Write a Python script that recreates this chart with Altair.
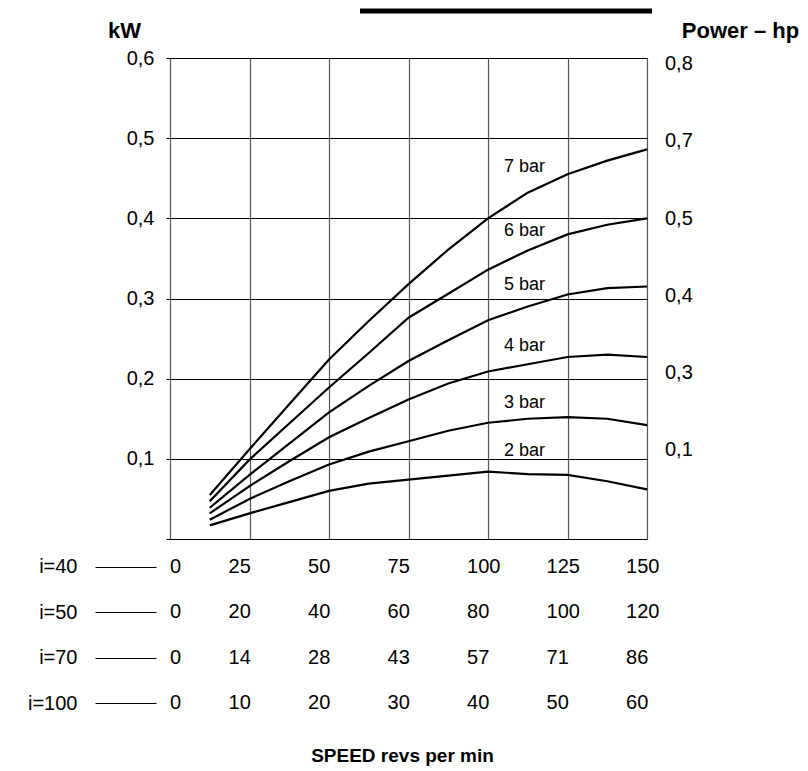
import altair as alt
import pandas as pd

# ---- data ----
speed = [12.5, 25, 37.5, 50, 62.5, 75, 87.5, 100, 112.5, 125, 137.5, 150]
bar7 = [0.055, 0.112, 0.168, 0.224, 0.272, 0.318, 0.361, 0.400, 0.432, 0.455, 0.472, 0.486]
bar6 = [0.047, 0.099, 0.144, 0.189, 0.232, 0.276, 0.306, 0.336, 0.360, 0.380, 0.392, 0.400]
bar5 = [0.039, 0.080, 0.119, 0.158, 0.191, 0.222, 0.248, 0.273, 0.290, 0.305, 0.313, 0.315]
bar4 = [0.032, 0.066, 0.097, 0.127, 0.151, 0.174, 0.194, 0.209, 0.218, 0.227, 0.230, 0.227]
bar3 = [0.024, 0.050, 0.072, 0.093, 0.109, 0.122, 0.135, 0.145, 0.150, 0.152, 0.150, 0.142]
bar2 = [0.017, 0.032, 0.046, 0.060, 0.069, 0.074, 0.079, 0.084, 0.081, 0.080, 0.072, 0.062]
series_names = ["7 bar", "6 bar", "5 bar", "4 bar", "3 bar", "2 bar"]
series_values = [bar7, bar6, bar5, bar4, bar3, bar2]

# curve label anchors (speed, kW)
label_speed = [105, 105, 105, 105, 105, 105]
label_kw = [0.464, 0.384, 0.317, 0.241, 0.170, 0.110]

# left axis (kW) ticks
kw_ticks = [0, 0.1, 0.2, 0.3, 0.4, 0.5, 0.6]
# right axis (hp) labels and the kW level they sit at
hp_labels = ["0,8", "0,7", "0,5", "0,4", "0,3", "0,1"]
hp_at_kw = [0.592, 0.496, 0.399, 0.303, 0.207, 0.111]

# speed grid / table
grid_speed = [0, 25, 50, 75, 100, 125, 150]
ratios = ["i=40", "i=50", "i=70", "i=100"]
row_i40 = [0, 25, 50, 75, 100, 125, 150]
row_i50 = [0, 20, 40, 60, 80, 100, 120]
row_i70 = [0, 14, 28, 43, 57, 71, 86]
row_i100 = [0, 10, 20, 30, 40, 50, 60]
rows = [row_i40, row_i50, row_i70, row_i100]

FONT = "Liberation Sans"
W, H = 477, 481

lines_df = pd.DataFrame(
    [{"series": n, "speed": s, "kw": v}
     for n, vals in zip(series_names, series_values)
     for s, v in zip(speed, vals)]
)
labels_df = pd.DataFrame({"name": series_names, "lx": label_speed, "ly": label_kw})
hp_df = pd.DataFrame({"hl": hp_labels, "hy": hp_at_kw, "hx": [150] * len(hp_labels)})
table_df = pd.DataFrame(
    [{"ratio": r, "grid": g, "txt": str(v)}
     for r, vals in zip(ratios, rows)
     for g, v in zip(grid_speed, vals)]
)
bar_df = pd.DataFrame({"k": [1]})

x_scale = alt.Scale(domain=[0, 150], nice=False, zero=False)
y_scale = alt.Scale(domain=[0, 0.6], nice=False)

x_axis = alt.Axis(values=grid_speed, labels=False, ticks=False, domain=False,
                  grid=True, gridColor="#555555", gridWidth=1.2, title=None)
y_axis = alt.Axis(
    values=kw_ticks,
    labelExpr="datum.value == 0 ? '' : replace(format(datum.value, '.1f'), '.', ',')",
    labelFontSize=20, labelPadding=12, labelColor="black",
    tickSize=4, tickColor="black", domain=False,
    grid=True, gridColor="black", gridWidth=1,
    title="kW", titleAngle=0, titleFontSize=22, titleFontWeight="bold",
    titleX=-46, titleY=-28, titleAlign="center", titleBaseline="middle",
    titleColor="black",
)

lines = alt.Chart(lines_df).mark_line(color="black", strokeWidth=2.2).encode(
    x=alt.X("speed:Q", scale=x_scale, axis=x_axis),
    y=alt.Y("kw:Q", scale=y_scale, axis=y_axis),
    detail="series:N",
)

hp_text = alt.Chart(hp_df).mark_text(
    align="left", baseline="middle", fontSize=20, dx=18, color="black"
).encode(
    x=alt.X("hx:Q", scale=x_scale),
    y=alt.Y("hy:Q", scale=y_scale, axis=alt.Axis(
        orient="right", labels=False, ticks=False, domain=False, grid=False,
        title="Power – hp", titleAngle=0, titleFontSize=22, titleFontWeight="bold",
        titleX=93, titleY=-28, titleAlign="center", titleBaseline="middle",
        titleColor="black")),
    text="hl:N",
)

curve_labels = alt.Chart(labels_df).mark_text(
    align="left", baseline="middle", fontSize=18, color="black"
).encode(
    x=alt.X("lx:Q", scale=x_scale),
    y=alt.Y("ly:Q", scale=y_scale, axis=None),
    text="name:N",
)

top_bar = alt.Chart(bar_df).mark_rule(color="black", strokeWidth=5).encode(
    x=alt.value(190), x2=alt.value(482), y=alt.value(-47)
)

main = alt.layer(lines, hp_text, curve_labels, top_bar).resolve_axis(
    y="independent"
).properties(width=W, height=H)

table = alt.Chart(table_df).transform_calculate(
    anchor="datum.grid == 0 ? 0 : datum.grid - 6.6"
).mark_text(align="left", baseline="middle", fontSize=20, color="black").encode(
    x=alt.X("anchor:Q", scale=x_scale, axis=alt.Axis(
        labels=False, ticks=False, domain=False, grid=False,
        title="SPEED revs per min", titleFontSize=19, titleFontWeight="bold",
        titlePadding=20, titleX=232, titleAlign="center", titleColor="black")),
    y=alt.Y("ratio:N", sort=ratios,
            scale=alt.Scale(paddingInner=0, paddingOuter=0),
            axis=alt.Axis(title=None, offset=14, tickSize=61, tickColor="black",
                          tickWidth=1, domain=False, grid=False,
                          labelFontSize=20, labelPadding=18, labelColor="black")),
    text="txt:N",
).properties(width=W, height=182)

chart = alt.vconcat(main, table, spacing=4).properties(
    padding={"left": 19, "top": 0, "right": 0, "bottom": 2}
).configure_view(stroke=None).configure_axis(
    labelFont=FONT, titleFont=FONT
).configure_text(font=FONT)

chart.save("out.html", embed_options={"renderer": "svg", "actions": False})
